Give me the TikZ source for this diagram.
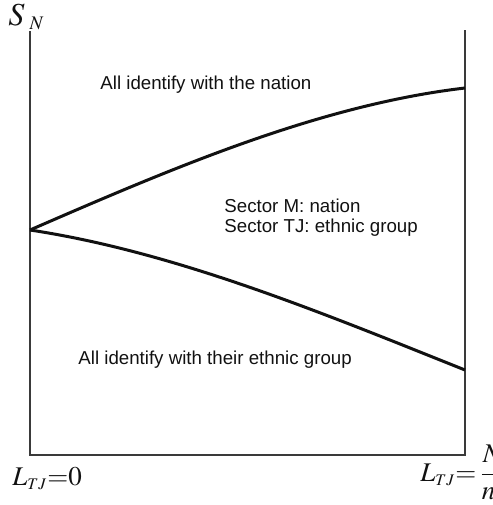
\documentclass[tikz,border=0pt]{standalone}
\usepackage{amsmath}
\usepackage{mathptmx}
\usepackage{fontspec}
\setmainfont{Liberation Serif}
\setsansfont{Liberation Sans}
\usetikzlibrary{positioning}
\definecolor{ink}{HTML}{111111}
\definecolor{axisgray}{HTML}{3A3A3A}

\begin{document}
\begin{tikzpicture}[
  x=0.5pt,y=-0.5pt,
  axis/.style={draw=axisgray,line width=.75pt},
  curve/.style={draw=ink,line width=1.5pt},
  region/.style={font=\sffamily\fontsize{9.35}{10}\selectfont,text=ink,inner sep=0pt,align=left},
  mathlbl/.style={font=\fontsize{13.5}{15}\selectfont,text=ink,inner sep=0pt}
]
  \useasboundingbox (0,0) rectangle (493,505);

  \coordinate (origin) at (30,455);
  \coordinate (ytop) at (30,31);
  \coordinate (xend) at (465,455);
  \coordinate (rtop) at (465,30);
  \coordinate (start) at (30,230);
  \coordinate (upend) at (465,88);
  \coordinate (lowend) at (465,370);

  \draw[axis] (ytop) -- (origin) -- (xend) -- (rtop);

  \draw[curve] (start) .. controls (175,167) and (320,105) .. (upend);
  \draw[curve] (start) .. controls (175,252) and (320,312) .. (lowend);

  \node[mathlbl,font=\fontsize{16}{18}\selectfont,anchor=base west] (sn) at (8,25) {$S_{\;\scriptscriptstyle N}$};
  \node[mathlbl,anchor=base west] (lzero) at (12,485) {$L_{\scriptscriptstyle TJ}{=}\!\!\;0$};
  \node[mathlbl,anchor=base west] (lmax) at (420,481) {$L_{\scriptscriptstyle TJ}{=}\,\dfrac{N}{n_{\scriptscriptstyle e}}$};

  \node[region,anchor=west] (nation) at (100,85) {All identify with the nation};
  \node[region,anchor=west] (sectors) at (224,218) {Sector M: nation\\Sector TJ: ethnic group};
  \node[region,anchor=west] (ethnic) at (78,360) {All identify with their ethnic group};
\end{tikzpicture}
\end{document}
